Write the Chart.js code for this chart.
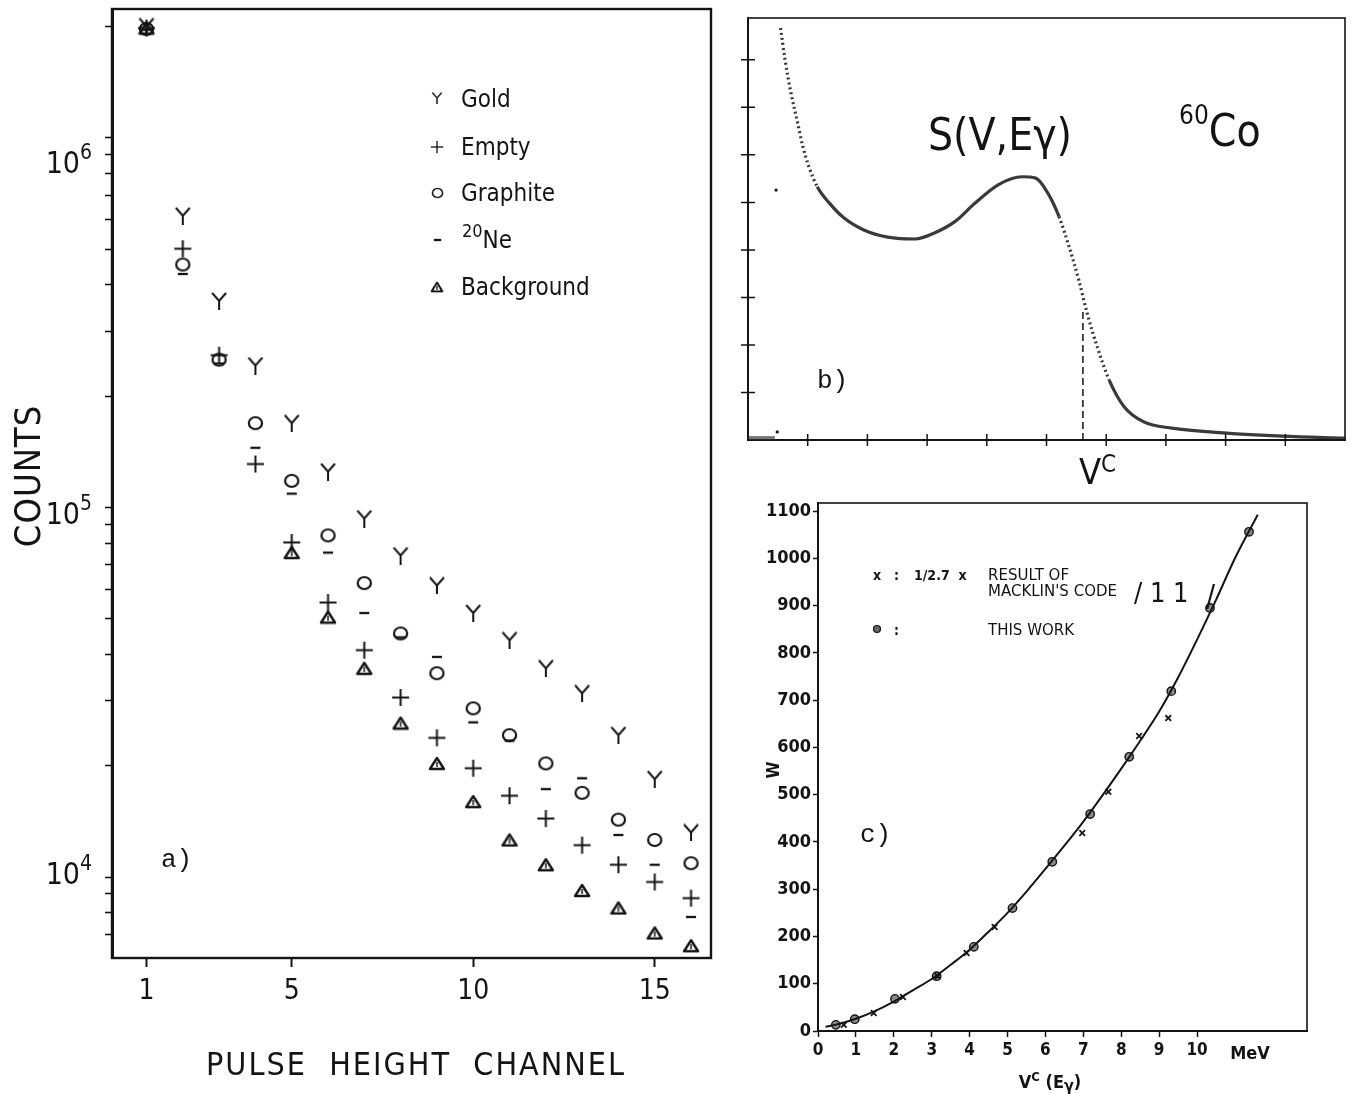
<!DOCTYPE html>
<html>
<head>
<meta charset="utf-8">
<title>Pulse height spectra and weighting function</title>
<script src="https://cdn.jsdelivr.net/npm/chart.js@4.4.1/dist/chart.umd.min.js"></script>
<style>
  body { margin: 0; background: #fff; }
  canvas { position: absolute; }
  #chartA { left: 0; top: 0; }
  #chartB { left: 730px; top: 0; }
  #chartC { left: 740px; top: 490px; }
</style>
</head>
<body>
<canvas id="chartA" width="730" height="1094"></canvas>
<canvas id="chartB" width="623" height="490"></canvas>
<canvas id="chartC" width="613" height="604"></canvas>
<script>
// a) counts per pulse height channel
var channels = [1, 2, 3, 4, 5, 6, 7, 8, 9, 10, 11, 12, 13, 14, 15, 16];
var goldCounts = [2.0e6, 6.15e5, 3.62e5, 2.42e5, 1.69e5, 1.25e5, 9.33e4, 7.41e4, 6.15e4, 5.18e4, 4.37e4, 3.67e4, 3.14e4, 2.42e4, 1.84e4, 1.32e4];
var emptyCounts = [1.98e6, 5.01e5, 2.58e5, 1.31e5, 8.04e4, 5.53e4, 4.11e4, 3.06e4, 2.38e4, 1.97e4, 1.66e4, 1.44e4, 1.22e4, 1.08e4, 9.7e3, 8.77e3];
var graphiteCounts = [1.97e6, 4.54e5, 2.51e5, 1.69e5, 1.18e5, 8.4e4, 6.24e4, 4.56e4, 3.56e4, 2.86e4, 2.42e4, 2.03e4, 1.69e4, 1.43e4, 1.26e4, 1.09e4];
var neonCounts = [1.96e6, 4.28e5, 2.45e5, 1.45e5, 1.09e5, 7.55e4, 5.18e4, 4.45e4, 3.94e4, 2.62e4, 2.34e4, 1.73e4, 1.85e4, 1.3e4, 1.08e4, 7.8e3];
var backgroundCounts = [1.98e6, null, null, null, 7.55e4, 5.05e4, 3.67e4, 2.61e4, 2.03e4, 1.6e4, 1.26e4, 1.08e4, 9.2e3, 8.25e3, 7.06e3, 6.52e3];
var channelTicks = [1, 5, 10, 15];
var countDecades = [4, 5, 6];

// b) response S(V, Egamma) for 60Co
var spectrumV = [0.545, 0.62, 0.72, 0.82, 0.92, 1.02, 1.16, 1.36, 1.61, 1.94, 2.34, 2.80, 3.13, 3.47, 3.80, 4.19, 4.59, 4.82, 5.02, 5.21, 5.38, 5.54, 5.68, 5.85, 6.05, 6.30, 6.63, 7.10, 7.96, 8.95, 10.0];
var spectrumS = [8.67, 8.0, 7.3, 6.74, 6.17, 5.75, 5.33, 4.99, 4.67, 4.42, 4.27, 4.23, 4.36, 4.6, 4.98, 5.37, 5.54, 5.51, 5.2, 4.7, 4.06, 3.37, 2.67, 1.96, 1.26, 0.70, 0.38, 0.25, 0.15, 0.08, 0.04];
var baselineV = [0, 0.45];
var baselineS = [0.04, 0.04];
var strayV = [0.47, 0.49];
var strayS = [5.26, 0.17];
var comptonEdgeV = 5.61;
var comptonEdgeTop = 2.75;

// c) weighting function W against V^c(Egamma)
var thisWorkE = [0.47, 0.97, 2.03, 3.13, 4.11, 5.13, 6.18, 7.18, 8.21, 9.32, 10.34, 11.37];
var thisWorkW = [13, 25, 68, 116, 178, 260, 358, 459, 580, 719, 895, 1056];
var macklinE = [0.68, 1.47, 2.24, 3.16, 3.92, 4.66, 6.97, 7.66, 8.47, 9.24];
var macklinW = [13, 38, 72, 116, 165, 220, 419, 506, 624, 662];
var fitE = [0.2, 0.5, 1, 1.5, 2, 2.5, 3, 3.5, 4, 4.5, 5, 5.5, 6, 6.5, 7, 7.5, 8, 8.5, 9, 9.5, 10, 10.5, 11, 11.6];
var fitW = [9, 14, 26, 42, 62, 86, 110, 140, 172, 210, 250, 295, 343, 392, 443, 498, 555, 614, 676, 748, 828, 912, 1000, 1092];
var energyTicks = [0, 1, 2, 3, 4, 5, 6, 7, 8, 9, 10];
var weightTicks = [0, 100, 200, 300, 400, 500, 600, 700, 800, 900, 1000, 1100];

var INK = "#141414";
var SANS = "'DejaVu Sans Condensed', 'DejaVu Sans', sans-serif";
var WIDE = "'DejaVu Sans', sans-serif";
var MONO = "'Liberation Mono', 'DejaVu Sans Mono', monospace";

function xy(xs, ys) {
  var out = [];
  for (var i = 0; i < xs.length; i++) {
    if (ys[i] !== null) out.push({ x: xs[i], y: ys[i] });
  }
  return out;
}

function symbolCanvas(w, h, draw) {
  var c = document.createElement("canvas");
  c.width = w;
  c.height = h;
  var g = c.getContext("2d");
  g.strokeStyle = INK;
  g.lineCap = "butt";
  draw(g);
  return c;
}

var symGold = symbolCanvas(18, 18, function (g) {
  g.lineWidth = 2;
  g.beginPath();
  g.moveTo(2, 1); g.lineTo(9, 9); g.lineTo(16, 1);
  g.moveTo(9, 9); g.lineTo(9, 18);
  g.stroke();
});
var symEmpty = symbolCanvas(19, 19, function (g) {
  g.lineWidth = 2;
  g.beginPath();
  g.moveTo(1, 9.5); g.lineTo(18, 9.5);
  g.moveTo(9.5, 1); g.lineTo(9.5, 18);
  g.stroke();
});
var symGraphite = symbolCanvas(17, 16, function (g) {
  g.lineWidth = 2.2;
  g.beginPath();
  g.ellipse(8.5, 8, 6.6, 6, 0, 0, Math.PI * 2);
  g.stroke();
});
var symNeon = symbolCanvas(12, 4, function (g) {
  g.lineWidth = 2.3;
  g.beginPath();
  g.moveTo(1, 2); g.lineTo(11, 2);
  g.stroke();
});
var symBackground = symbolCanvas(18, 15, function (g) {
  g.lineWidth = 2.4;
  g.lineJoin = "round";
  g.beginPath();
  g.moveTo(2, 13); g.lineTo(9, 2); g.lineTo(16, 13); g.closePath();
  g.stroke();
  g.lineWidth = 1.5;
  g.beginPath();
  g.moveTo(9, 6); g.lineTo(9, 11);
  g.stroke();
});

// base text with a raised smaller part, e.g. 10^6 or 60Co
function textSup(ctx, parts, x, y, align) {
  var total = 0;
  parts.forEach(function (p) {
    ctx.font = p.font;
    p.w = ctx.measureText(p.text).width;
    total += p.w;
  });
  var cx = align === "right" ? x - total : align === "center" ? x - total / 2 : x;
  ctx.textAlign = "left";
  parts.forEach(function (p) {
    ctx.font = p.font;
    ctx.fillText(p.text, cx, y - (p.rise || 0));
    cx += p.w;
  });
}

function frameBox(width) {
  return {
    id: "frameBox",
    afterDraw: function (chart) {
      var a = chart.chartArea, ctx = chart.ctx;
      ctx.save();
      ctx.strokeStyle = INK;
      ctx.lineWidth = width;
      ctx.strokeRect(a.left, a.top, a.right - a.left, a.bottom - a.top);
      ctx.restore();
    }
  };
}

Chart.defaults.animation = false;
Chart.defaults.color = INK;
Chart.defaults.plugins.legend.display = false;
Chart.defaults.plugins.tooltip.enabled = false;

// ---------- a) ----------
var panelAText = {
  id: "panelAText",
  afterDraw: function (chart) {
    var ctx = chart.ctx, ys = chart.scales.y;
    ctx.save();
    ctx.fillStyle = INK;
    ctx.textBaseline = "alphabetic";
    var shift = [-4, 6, 24];
    countDecades.forEach(function (d, i) {
      var py = ys.getPixelForValue(Math.pow(10, d)) + shift[i];
      textSup(ctx, [
        { text: "10", font: "30px " + SANS },
        { text: String(d), font: "21px " + SANS, rise: 14 }
      ], 92, py + 11, "right");
    });

    ctx.save();
    ctx.translate(40, 476);
    ctx.rotate(-Math.PI / 2);
    ctx.font = "36px " + SANS;
    ctx.textAlign = "center";
    ctx.letterSpacing = "1px";
    ctx.fillText("COUNTS", 0, 0);
    ctx.restore();

    ctx.font = "32px " + SANS;
    ctx.textAlign = "center";
    ctx.letterSpacing = "2px";
    ctx.fillText("PULSE  HEIGHT  CHANNEL", 416, 1075);
    ctx.letterSpacing = "0px";

    // legend symbols, slightly smaller than the plotted ones
    ctx.drawImage(symGold, 431, 92, 12, 12);
    ctx.drawImage(symEmpty, 430, 140, 14, 14);
    ctx.drawImage(symGraphite, 431, 187, 13, 12);
    ctx.drawImage(symNeon, 433, 238, 9, 4);
    ctx.drawImage(symBackground, 430, 281, 14, 12);

    ctx.font = "24px " + SANS;
    ctx.textAlign = "left";
    ctx.fillText("Gold", 461, 107);
    ctx.fillText("Empty", 461, 155);
    ctx.fillText("Graphite", 461, 201);
    textSup(ctx, [
      { text: "20", font: "18px " + SANS, rise: 11 },
      { text: "Ne", font: "24px " + SANS }
    ], 462, 248, "left");
    ctx.font = "24px " + SANS;
    ctx.fillText("Background", 461, 295);

    ctx.font = "26px " + MONO;
    ctx.fillText("a)", 161, 867);
    ctx.restore();
  }
};

function scatterSet(label, values, sym) {
  return {
    label: label,
    data: xy(channels, values),
    showLine: false,
    pointStyle: sym,
    pointRadius: 8
  };
}

new Chart(document.getElementById("chartA"), {
  type: "scatter",
  data: {
    datasets: [
      scatterSet("Gold", goldCounts, symGold),
      scatterSet("Empty", emptyCounts, symEmpty),
      scatterSet("Graphite", graphiteCounts, symGraphite),
      scatterSet("20Ne", neonCounts, symNeon),
      scatterSet("Background", backgroundCounts, symBackground)
    ]
  },
  options: {
    responsive: false,
    devicePixelRatio: 1,
    layout: { padding: { top: 8, right: 19, left: 0, bottom: 0 } },
    scales: {
      x: {
        type: "linear",
        min: 0.05,
        max: 16.55,
        afterBuildTicks: function (s) {
          s.ticks = channelTicks.map(function (v) { return { value: v }; });
        },
        afterFit: function (s) { s.height = 136; },
        ticks: { font: { size: 28, family: SANS }, color: INK, padding: 8 },
        grid: { drawOnChartArea: false, tickLength: 9, tickWidth: 2, tickColor: INK },
        border: { width: 2, color: INK }
      },
      y: {
        type: "logarithmic",
        min: 6040,
        max: 2.23e6,
        afterBuildTicks: function (s) {
          var t = [];
          for (var d = 3; d <= 6; d++) {
            for (var m = 1; m <= 9; m++) {
              var v = m * Math.pow(10, d);
              if (v >= s.min && v <= s.max) t.push({ value: v, major: m === 1 });
            }
          }
          s.ticks = t;
        },
        afterFit: function (s) { s.width = 112; },
        ticks: { display: false },
        grid: { drawOnChartArea: false, tickLength: 7, tickWidth: 1.6, tickColor: INK },
        border: { width: 3, color: INK }
      }
    }
  },
  plugins: [frameBox(2.4), panelAText]
});

// ---------- b) ----------
var panelBText = {
  id: "panelBText",
  afterDraw: function (chart) {
    var ctx = chart.ctx, xs = chart.scales.x, ys = chart.scales.y, a = chart.chartArea;
    ctx.save();
    ctx.strokeStyle = INK;
    ctx.lineWidth = 1.5;
    ctx.beginPath();
    for (var i = 1; i <= 8; i++) {
      var py = ys.getPixelForValue(i);
      ctx.moveTo(a.left - 7, py); ctx.lineTo(a.left + 7, py);
    }
    for (var j = 1; j <= 9; j++) {
      var px = xs.getPixelForValue(j);
      ctx.moveTo(px, a.bottom - 6); ctx.lineTo(px, a.bottom + 6);
    }
    ctx.stroke();

    ctx.fillStyle = INK;
    ctx.textBaseline = "alphabetic";
    ctx.font = "44px " + SANS;
    ctx.textAlign = "center";
    ctx.fillText("S(V,E\u03b3)", 270, 150);
    textSup(ctx, [
      { text: "60", font: "26px " + SANS, rise: 22 },
      { text: "Co", font: "44px " + SANS }
    ], 449, 146, "left");
    ctx.font = "26px " + MONO;
    ctx.textAlign = "left";
    ctx.fillText("b)", 87, 388);
    var vx = xs.getPixelForValue(comptonEdgeV);
    textSup(ctx, [
      { text: "V", font: "36px " + SANS },
      { text: "C", font: "24px " + SANS, rise: 12 }
    ], vx - 4, a.bottom + 44, "left");
    ctx.restore();
  }
};

function steepPart(ctx) {
  var x = ctx.p0.parsed.x;
  return x < 1.1 || (x >= 5.2 && x < 5.9) ? [2, 3] : undefined;
}

new Chart(document.getElementById("chartB"), {
  type: "scatter",
  data: {
    datasets: [
      {
        label: "S(V,Egamma)",
        data: xy(spectrumV, spectrumS),
        showLine: true,
        borderColor: "#3a3a3a",
        borderWidth: 3.2,
        cubicInterpolationMode: "monotone",
        pointRadius: 0,
        segment: { borderDash: steepPart }
      },
      {
        label: "baseline",
        data: xy(baselineV, baselineS),
        showLine: true,
        borderColor: "#777",
        borderWidth: 4,
        pointRadius: 0
      },
      {
        label: "stray",
        data: xy(strayV, strayS),
        showLine: false,
        pointRadius: 1.6,
        backgroundColor: INK,
        borderWidth: 0
      },
      {
        label: "Vc",
        data: [{ x: comptonEdgeV, y: 0 }, { x: comptonEdgeV, y: comptonEdgeTop }],
        showLine: true,
        borderColor: INK,
        borderWidth: 1.5,
        borderDash: [7, 4],
        pointRadius: 0
      }
    ]
  },
  options: {
    responsive: false,
    devicePixelRatio: 1,
    layout: { padding: { top: 18, right: 8, left: 0, bottom: 0 } },
    scales: {
      x: {
        type: "linear",
        min: 0,
        max: 10,
        afterFit: function (s) { s.height = 50; },
        ticks: { display: false },
        grid: { display: false },
        border: { width: 2, color: INK }
      },
      y: {
        type: "linear",
        min: 0,
        max: 8.88,
        afterFit: function (s) { s.width = 18; },
        ticks: { display: false },
        grid: { display: false },
        border: { width: 2, color: INK }
      }
    }
  },
  plugins: [frameBox(1.6), panelBText]
});

// ---------- c) ----------
var panelCText = {
  id: "panelCText",
  afterDraw: function (chart) {
    var ctx = chart.ctx;
    ctx.save();
    ctx.fillStyle = INK;
    ctx.textBaseline = "alphabetic";

    ctx.save();
    ctx.translate(39, 280);
    ctx.rotate(-Math.PI / 2);
    ctx.font = "bold 17px " + SANS;
    ctx.textAlign = "center";
    ctx.fillText("W", 0, 0);
    ctx.restore();

    ctx.textAlign = "left";
    textSup(ctx, [
      { text: "V", font: "bold 18px " + SANS },
      { text: "C", font: "bold 13px " + SANS, rise: 7 },
      { text: " (E", font: "bold 18px " + SANS },
      { text: "\u03b3", font: "bold 16px " + SANS, rise: -3 },
      { text: ")", font: "bold 18px " + SANS }
    ], 310, 598, "center");

    ctx.font = "bold 18px " + SANS;
    ctx.textAlign = "center";
    ctx.fillText("MeV", 510, 569);

    ctx.textAlign = "left";
    ctx.font = "bold 14px " + SANS;
    ctx.fillText("x", 133, 90);
    ctx.fillText(":", 154, 90);
    ctx.fillText("1/2.7  x", 174, 90);
    ctx.font = "15px " + WIDE;
    ctx.fillText("RESULT OF", 248, 90);
    ctx.fillText("MACKLIN'S CODE", 248, 106);
    ctx.fillText("THIS WORK", 248, 145);
    ctx.font = "bold 14px " + SANS;
    ctx.fillText(":", 154, 145);
    ctx.beginPath();
    ctx.arc(137, 139, 3.5, 0, Math.PI * 2);
    ctx.fillStyle = "#666";
    ctx.fill();
    ctx.strokeStyle = INK;
    ctx.lineWidth = 1.2;
    ctx.stroke();
    ctx.fillStyle = INK;
    ctx.font = "27px " + SANS;
    ctx.fillText("/ 1 1", 394, 112);
    ctx.font = "30px " + SANS;
    ctx.fillText("/", 466, 116);

    ctx.font = "26px " + MONO;
    ctx.fillText("c)", 120, 352);
    ctx.restore();
  }
};

function plainNumber(v) { return String(v); }

new Chart(document.getElementById("chartC"), {
  type: "scatter",
  data: {
    datasets: [
      {
        label: "fit",
        data: xy(fitE, fitW),
        showLine: true,
        borderColor: INK,
        borderWidth: 2,
        cubicInterpolationMode: "monotone",
        pointRadius: 0
      },
      {
        label: "1/2.7 x result of Macklin's code",
        data: xy(macklinE, macklinW),
        showLine: false,
        pointStyle: "crossRot",
        pointRadius: 4,
        borderColor: INK,
        borderWidth: 1.8
      },
      {
        label: "this work",
        data: xy(thisWorkE, thisWorkW),
        showLine: false,
        pointStyle: "circle",
        pointRadius: 4.2,
        backgroundColor: "#8a8a8a",
        borderColor: INK,
        borderWidth: 1.4
      }
    ]
  },
  options: {
    responsive: false,
    devicePixelRatio: 1,
    layout: { padding: { top: 13, right: 46, left: 0, bottom: 0 } },
    scales: {
      x: {
        type: "linear",
        min: 0,
        max: 12.9,
        afterBuildTicks: function (s) {
          s.ticks = energyTicks.map(function (v) { return { value: v }; });
        },
        afterFit: function (s) { s.height = 63; },
        ticks: { font: { size: 17, weight: "bold", family: SANS }, color: INK, padding: 3, maxRotation: 0, callback: plainNumber },
        grid: { drawOnChartArea: false, tickLength: 6, tickWidth: 1.5, tickColor: INK },
        border: { width: 2, color: INK }
      },
      y: {
        type: "linear",
        min: 0,
        max: 1117,
        afterBuildTicks: function (s) {
          s.ticks = weightTicks.map(function (v) { return { value: v }; });
        },
        afterFit: function (s) { s.width = 78; },
        ticks: { font: { size: 18, weight: "bold", family: SANS }, color: INK, padding: 2, callback: plainNumber },
        grid: { drawOnChartArea: false, tickLength: 5, tickWidth: 1.5, tickColor: INK },
        border: { width: 2, color: INK }
      }
    }
  },
  plugins: [frameBox(1.6), panelCText]
});
</script>
</body>
</html>
